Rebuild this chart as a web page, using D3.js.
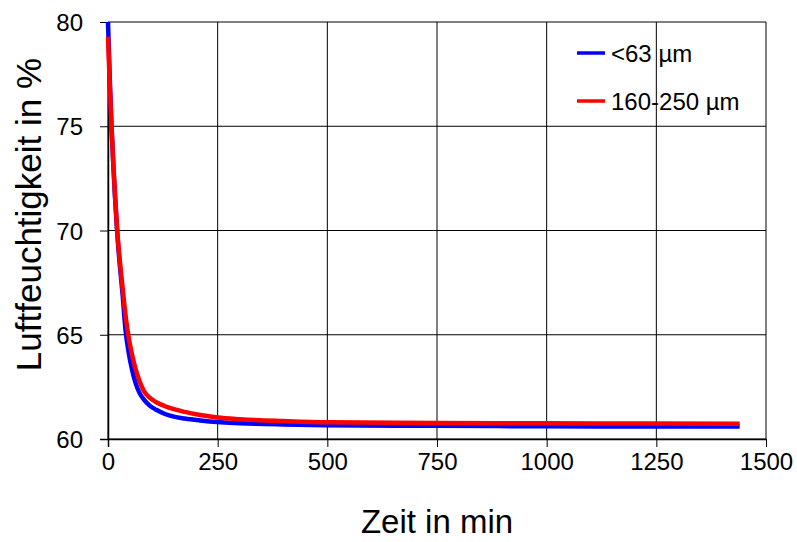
<!DOCTYPE html>
<html>
<head>
<meta charset="utf-8">
<script src="https://cdn.jsdelivr.net/npm/d3@7"></script>
<style>
  body { margin: 0; background: #fff; }
  text { font-family: "Liberation Sans", Arial, sans-serif; fill: #000; }
</style>
</head>
<body>
<div class="chart"></div>
<script>
// time points in minutes
const timeMin = [0, 4, 8, 12, 16, 21, 27, 33, 40, 47, 55, 63, 72, 82, 95, 110, 130, 150, 175, 210, 250, 300, 400, 500, 750, 1000, 1250, 1440];
// relative humidity (%) per grain size
const fine = [80.0, 77.3, 75.0, 73.2, 71.6, 69.9, 68.32, 67.0, 65.22, 64.17, 63.31, 62.68, 62.2, 61.89, 61.6, 61.4, 61.2, 61.07, 60.98, 60.89, 60.81, 60.76, 60.7, 60.66, 60.63, 60.61, 60.6, 60.6];
const coarse = [79.3, 77.0, 75.0, 73.25, 71.7, 70.0, 68.53, 67.3, 65.92, 64.87, 64.03, 63.35, 62.77, 62.3, 61.98, 61.76, 61.57, 61.43, 61.3, 61.15, 61.03, 60.95, 60.86, 60.8, 60.77, 60.75, 60.74, 60.73];
const seriesNames = ["<63 µm", "160-250 µm"];
const seriesColors = ["#0000ff", "#ff0000"];
const xTicks = [0, 250, 500, 750, 1000, 1250, 1500];
const yTicks = [60, 65, 70, 75, 80];

const W = 797, H = 542;
const margin = { top: 22, right: 31, bottom: 103, left: 108 },
  width = W - margin.left - margin.right,
  height = H - margin.top - margin.bottom;

const svg = d3.select(".chart")
  .append("svg")
  .attr("width", W)
  .attr("height", H);

const g = svg.append("g")
  .attr("transform", `translate(${margin.left},${margin.top})`);

const x = d3.scaleLinear().domain([0, 1500]).range([0, width]);
const y = d3.scaleLinear().domain([60, 80]).range([height, 0]);

// grid
g.append("g")
  .selectAll("line")
  .data(xTicks)
  .join("line")
  .attr("x1", d => x(d))
  .attr("x2", d => x(d))
  .attr("y1", 0)
  .attr("y2", height)
  .attr("stroke", "#000")
  .attr("stroke-width", 1);

g.append("g")
  .selectAll("line")
  .data(yTicks)
  .join("line")
  .attr("x1", 0)
  .attr("x2", width)
  .attr("y1", d => y(d))
  .attr("y2", d => y(d))
  .attr("stroke", "#000")
  .attr("stroke-width", 1);

// axes
const xAxis = g.append("g")
  .attr("transform", `translate(0,${height})`)
  .call(d3.axisBottom(x).tickValues(xTicks).tickSize(8).tickPadding(6).tickFormat(d3.format("d")));
const yAxis = g.append("g")
  .call(d3.axisLeft(y).tickValues(yTicks).tickSize(8).tickPadding(17));

[xAxis, yAxis].forEach(a => {
  a.select(".domain").remove();
  a.selectAll("line").attr("stroke", "#000");
  a.selectAll("text")
    .style("font-size", "24px")
    .attr("fill", "#000");
});
yAxis.selectAll("text").attr("dy", "0.36em");

// left and bottom axis lines
g.append("line").attr("x1", 0.5).attr("x2", 0.5).attr("y1", 0).attr("y2", height + 8).attr("stroke", "#000").attr("stroke-width", 1.5);
g.append("line").attr("x1", -8).attr("x2", width).attr("y1", height + 0.5).attr("y2", height + 0.5).attr("stroke", "#000").attr("stroke-width", 1.5);

// series
const line = d3.line()
  .curve(d3.curveMonotoneX)
  .x((d, i) => x(timeMin[i]))
  .y(d => y(d));

[fine, coarse].forEach((vals, k) => {
  g.append("path")
    .datum(vals)
    .attr("fill", "none")
    .attr("stroke", seriesColors[k])
    .attr("stroke-width", 4.5)
    .attr("d", line);
});

// legend
const legend = svg.append("g").attr("transform", "translate(577,53)");
seriesNames.forEach((name, k) => {
  const row = legend.append("g").attr("transform", `translate(0,${k * 48})`);
  row.append("line")
    .attr("x1", 0).attr("x2", 28)
    .attr("stroke", seriesColors[k])
    .attr("stroke-width", 3.5);
  row.append("text")
    .attr("x", 34)
    .attr("dy", "0.36em")
    .style("font-size", "24px")
    .text(name);
});

// axis titles
svg.append("text")
  .attr("x", margin.left + width / 2)
  .attr("y", 533)
  .attr("text-anchor", "middle")
  .style("font-size", "33px")
  .text("Zeit in min");

svg.append("text")
  .attr("transform", `translate(41,${margin.top + height / 2 - 16}) rotate(-90)`)
  .attr("text-anchor", "middle")
  .style("font-size", "35px")
  .text("Luftfeuchtigkeit in %");
</script>
</body>
</html>
